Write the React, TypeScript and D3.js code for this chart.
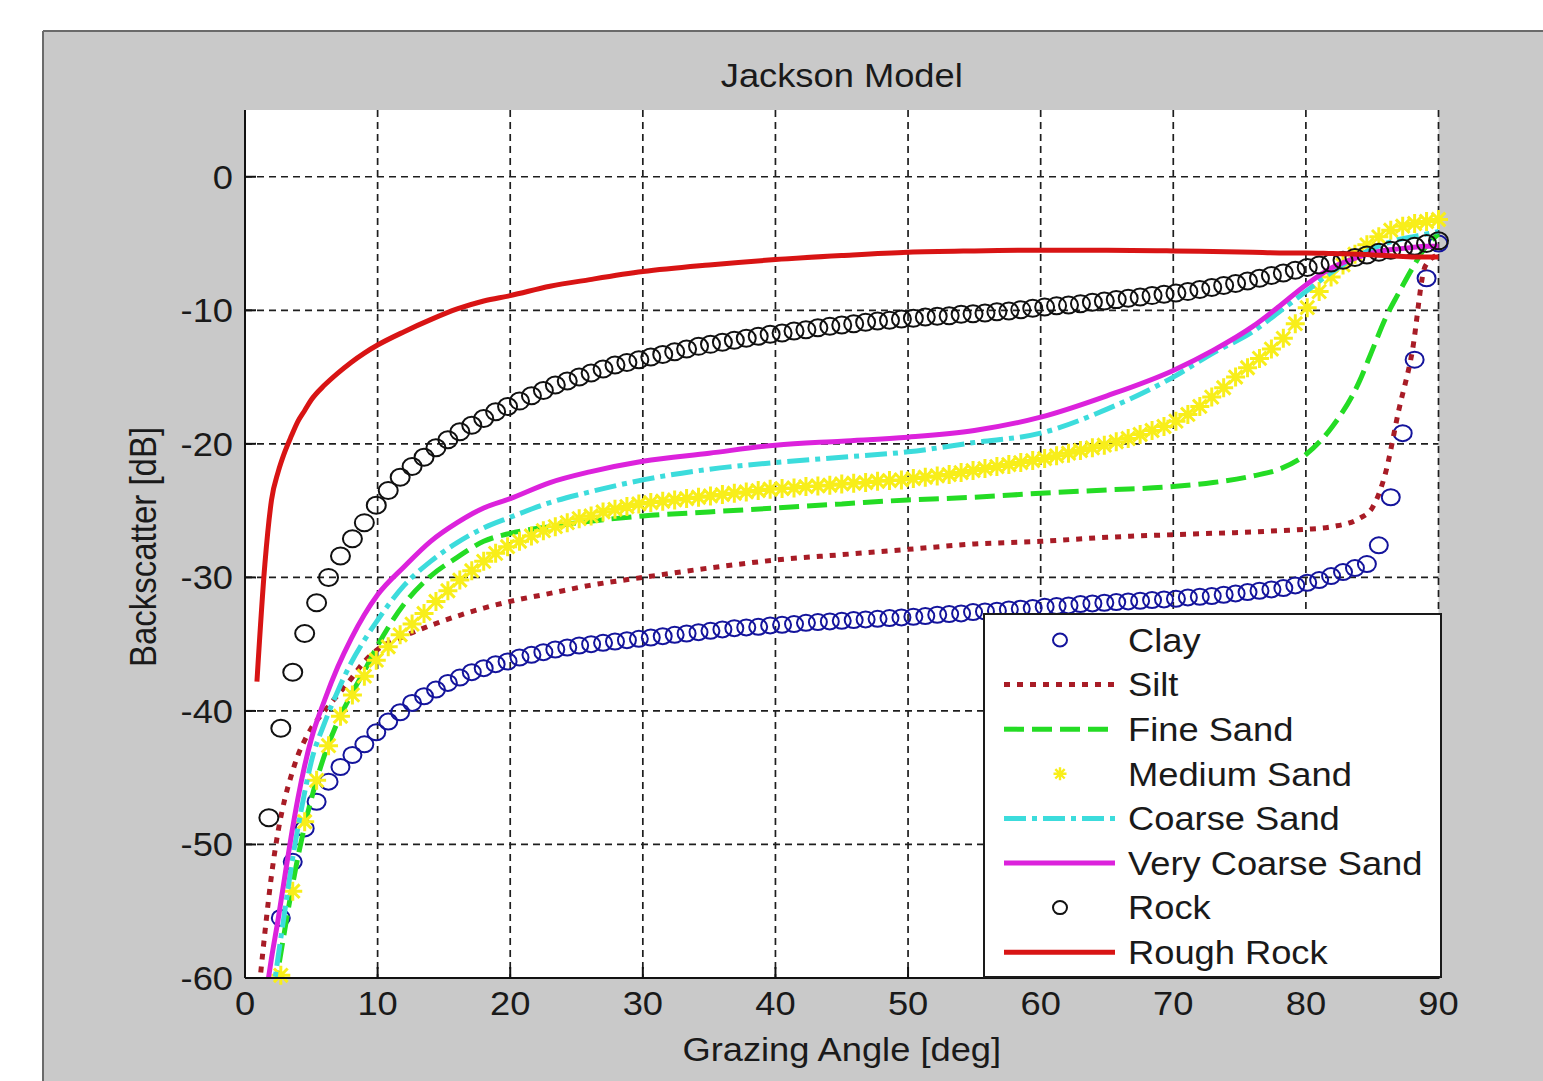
import React from 'react';
import * as d3 from 'd3';

const W = 1543;
const H = 1081;

const title = 'Jackson Model';
const xLabel = 'Grazing Angle [deg]';
const yLabel = 'Backscatter [dB]';
const xTicks = [0, 10, 20, 30, 40, 50, 60, 70, 80, 90];
const yTicks = [0, -10, -20, -30, -40, -50, -60];

// marker series sampled every 0.9 deg (0.9 ... 90)
const markerAngles = d3.range(1, 101).map((i) => Math.round(i * 9) / 10);

const clay = [
  null, null, -55.5, -51.3, -48.8, -46.8, -45.3, -44.2, -43.3, -42.5,
  -41.6, -40.8, -40.1, -39.4, -38.9, -38.4, -37.9, -37.5, -37.1, -36.8,
  -36.5, -36.3, -36.0, -35.8, -35.6, -35.4, -35.25, -35.1, -35.0, -34.9,
  -34.8, -34.7, -34.6, -34.5, -34.4, -34.3, -34.2, -34.1, -34.0, -33.9,
  -33.8, -33.75, -33.7, -33.6, -33.55, -33.5, -33.4, -33.35, -33.3, -33.25,
  -33.2, -33.15, -33.1, -33.05, -33.0, -32.95, -32.9, -32.8, -32.75, -32.7,
  -32.6, -32.55, -32.5, -32.4, -32.35, -32.3, -32.2, -32.15, -32.1, -32.0,
  -31.95, -31.9, -31.85, -31.8, -31.75, -31.7, -31.65, -31.6, -31.5, -31.45,
  -31.4, -31.3, -31.2, -31.1, -31.0, -30.9, -30.8, -30.6, -30.4, -30.2,
  -29.9, -29.6, -29.3, -29.0, -27.6, -24.0, -19.2, -13.7, -7.6, -5.0,
];

const mediumSand = [
  null, null, -59.8, -53.5, -48.3, -45.2, -42.6, -40.4, -38.8, -37.4,
  -36.2, -35.2, -34.3, -33.5, -32.7, -31.8, -31.0, -30.2, -29.5, -28.8,
  -28.2, -27.7, -27.3, -26.9, -26.5, -26.2, -25.9, -25.6, -25.4, -25.1,
  -24.9, -24.7, -24.5, -24.4, -24.3, -24.2, -24.1, -24.0, -23.9, -23.8,
  -23.7, -23.6, -23.5, -23.4, -23.35, -23.3, -23.2, -23.15, -23.1, -23.0,
  -22.95, -22.9, -22.8, -22.75, -22.7, -22.6, -22.5, -22.4, -22.3, -22.15,
  -22.0, -21.85, -21.7, -21.55, -21.4, -21.25, -21.1, -20.9, -20.7, -20.5,
  -20.3, -20.1, -19.85, -19.6, -19.3, -19.0, -18.7, -18.3, -17.8, -17.2,
  -16.5, -15.8, -15.0, -14.3, -13.6, -12.9, -12.1, -11.0, -9.8, -8.6,
  -7.5, -6.6, -5.8, -5.1, -4.5, -4.0, -3.7, -3.5, -3.35, -3.2,
];

const rock = [
  null, -48.0, -41.3, -37.1, -34.2, -31.9, -30.0, -28.4, -27.1, -25.9,
  -24.6, -23.5, -22.5, -21.7, -21.0, -20.3, -19.7, -19.1, -18.6, -18.1,
  -17.6, -17.2, -16.8, -16.4, -16.0, -15.6, -15.3, -15.0, -14.7, -14.4,
  -14.1, -13.9, -13.7, -13.5, -13.3, -13.1, -12.9, -12.7, -12.55, -12.4,
  -12.25, -12.1, -11.95, -11.8, -11.7, -11.55, -11.45, -11.3, -11.2, -11.1,
  -11.0, -10.9, -10.8, -10.75, -10.65, -10.6, -10.5, -10.45, -10.4, -10.3,
  -10.25, -10.2, -10.1, -10.05, -9.95, -9.85, -9.75, -9.65, -9.6, -9.5,
  -9.4, -9.3, -9.2, -9.1, -9.0, -8.9, -8.8, -8.7, -8.6, -8.45,
  -8.3, -8.15, -8.0, -7.8, -7.6, -7.4, -7.2, -7.0, -6.8, -6.6,
  -6.45, -6.25, -6.05, -5.85, -5.65, -5.5, -5.35, -5.2, -5.0, -4.8,
];

// line series sampled at these angles
const lineAngles = [
  0.9, 1.5, 2, 2.5, 3, 3.5, 4, 4.5, 5, 6, 7, 8, 9, 10, 12, 14, 16, 18, 20, 23,
  26, 30, 35, 40, 45, 50, 55, 60, 65, 70, 73, 76, 78, 80, 82, 84, 85, 86, 87, 88,
  89, 90,
];

const silt = [
  -62.5, -56.6, -52.3, -49.0, -46.6, -44.8, -43.3, -42.2, -41.3, -40.0,
  -38.8, -37.6, -36.3, -35.4, -34.4, -33.6, -32.9, -32.3, -31.8, -31.2,
  -30.6, -30.0, -29.3, -28.7, -28.3, -27.9, -27.5, -27.3, -27.0, -26.8,
  -26.7, -26.6, -26.5, -26.4, -26.2, -25.6, -24.8, -22.2, -17.5, -13.2,
  -6.7, -5.8,
];

const fineSand = [
  null, null, -63.0, -59.4, -56.4, -53.5, -50.9, -48.6, -46.6, -43.3,
  -40.8, -38.8, -37.0, -35.1, -32.0, -29.9, -28.5, -27.3, -26.7, -26.2,
  -25.8, -25.4, -25.1, -24.8, -24.5, -24.2, -24.0, -23.7, -23.45, -23.2,
  -22.9, -22.4, -21.9, -20.8, -18.7, -15.4, -13.0, -10.6, -8.7, -6.9,
  -5.3, -4.3,
];

const coarseSand = [
  null, null, -62.0, -58.4, -55.0, -51.6, -48.7, -46.1, -43.8, -40.9,
  -38.5, -36.4, -34.7, -33.2, -30.6, -28.8, -27.4, -26.3, -25.5, -24.4,
  -23.6, -22.7, -21.9, -21.4, -21.0, -20.6, -19.9, -19.2, -17.4, -15.0,
  -13.2, -11.6, -10.1, -8.6, -7.1, -5.9, -5.4, -5.0, -4.7, -4.5,
  -4.3, -4.1,
];

const veryCoarseSand = [
  null, -61.8, -58.5, -55.6, -52.4, -49.3, -46.5, -44.1, -42.1, -39.2,
  -36.7, -34.6, -32.8, -31.3, -29.2, -27.3, -25.9, -24.8, -24.1, -22.9,
  -22.1, -21.3, -20.7, -20.1, -19.8, -19.5, -19.0, -18.0, -16.4, -14.5,
  -13.0, -11.2, -9.7, -8.1, -6.8, -6.0, -5.7, -5.5, -5.4, -5.3,
  -5.2, -5.2,
];

const roughRock = [
  -37.8, -29.0, -24.2, -22.1, -20.6, -19.4, -18.3, -17.5, -16.7, -15.6,
  -14.7, -13.9, -13.2, -12.6, -11.6, -10.7, -9.9, -9.3, -8.9, -8.2,
  -7.7, -7.1, -6.6, -6.2, -5.9, -5.65, -5.55, -5.5, -5.5, -5.55,
  -5.6, -5.65, -5.7, -5.7, -5.75, -5.8, -5.85, -5.9, -5.95, -6.0,
  -6.0, -6.0,
];

const legendNames = [
  'Clay', 'Silt', 'Fine Sand', 'Medium Sand', 'Coarse Sand',
  'Very Coarse Sand', 'Rock', 'Rough Rock',
];

const FONT = "'Liberation Sans', Arial, Helvetica, sans-serif";
const TEXT_COLOR = '#1a1a1a';
const SX = 1.1; // horizontal stretch of the original figure's text

type Style = {
  kind: 'circle' | 'star' | 'line';
  color: string;
  dash?: string;
};

const styles: Style[] = [
  { kind: 'circle', color: '#14149c' },
  { kind: 'line', color: '#a81c26', dash: '6,7' },
  { kind: 'line', color: '#24dc24', dash: '20,8' },
  { kind: 'star', color: '#f8ee1a' },
  { kind: 'line', color: '#3cdcdc', dash: '22,6,5,6' },
  { kind: 'line', color: '#dc22dc' },
  { kind: 'circle', color: '#111111' },
  { kind: 'line', color: '#d81414' },
];

function starPath(cx: number, cy: number, r: number) {
  const d = r * 0.72;
  return `M${cx - r},${cy}H${cx + r}M${cx},${cy - r}V${cy + r}M${cx - d},${cy - d}L${cx + d},${cy + d}M${cx - d},${cy + d}L${cx + d},${cy - d}`;
}

function SText(props: {
  x: number;
  y: number;
  anchor?: 'start' | 'middle' | 'end';
  dy?: string;
  size?: number;
  children: React.ReactNode;
}) {
  const { x, y, anchor = 'start', dy, size = 33, children } = props;
  return (
    <g transform={`translate(${x},${y}) scale(${SX},1)`}>
      <text x={0} y={0} dy={dy} textAnchor={anchor} fontSize={size} fill={TEXT_COLOR}>
        {children}
      </text>
    </g>
  );
}

export default function App() {
  const left = 245;
  const right = 1438.5;
  const top = 110;
  const bottom = 978;
  const x = d3.scaleLinear().domain([0, 90]).range([left, right]);
  const y = d3.scaleLinear().domain([-60, 5]).range([bottom, top]);

  const line = d3
    .line<[number, number | null]>()
    .defined((d) => d[1] != null)
    .x((d) => x(d[0]))
    .y((d) => y(d[1] as number))
    .curve(d3.curveMonotoneX);

  const zipLine = (vals: (number | null)[]) =>
    lineAngles.map((a, i) => [a, vals[i]] as [number, number | null]);
  const zipMarkers = (vals: (number | null)[]) =>
    markerAngles
      .map((a, i) => [a, vals[i]] as [number, number | null])
      .filter((d) => d[1] != null && (d[1] as number) >= -60) as [number, number][];

  const legendX = 984;
  const legendY = 614;
  const legendW = 457;
  const legendH = 363;
  const rowY0 = 640;
  const rowStep = 44.6;

  return (
    <svg
      width={W}
      height={H}
      style={{ position: 'absolute', left: 0, top: 0, display: 'block' }}
      fontFamily={FONT}
    >
      <defs>
        <clipPath id="plotClip">
          <rect x={left} y={top} width={right - left + 2} height={bottom - top} />
        </clipPath>
      </defs>
      <rect x={0} y={0} width={W} height={H} fill="#ffffff" />
      <rect x={43} y={31} width={W - 43} height={H - 31} fill="#c9c9c9" />
      <line x1={43} y1={31} x2={W} y2={31} stroke="#6a6a6a" strokeWidth={2} />
      <line x1={43} y1={31} x2={43} y2={H} stroke="#6a6a6a" strokeWidth={2} />

      {/* plot area */}
      <rect x={left} y={top} width={right - left} height={bottom - top} fill="#ffffff" />

      {/* grid */}
      <g stroke="#1e1e1e" strokeWidth={1.7} strokeDasharray="7,5">
        {xTicks.filter((t) => t > 0).map((t) => (
          <line key={'gx' + t} x1={x(t)} x2={x(t)} y1={top} y2={bottom} />
        ))}
        {yTicks.filter((t) => t > -60).map((t) => (
          <line key={'gy' + t} x1={left} x2={right} y1={y(t)} y2={y(t)} />
        ))}
      </g>

      {/* data */}
      <g>
        {zipMarkers(clay).map((d, i) => (
          <ellipse key={'c' + i} cx={x(d[0])} cy={y(d[1])} rx={9} ry={8} fill="none" stroke={styles[0].color} strokeWidth={2} />
        ))}
      </g>
      <g clipPath="url(#plotClip)">
        <path d={line(zipLine(silt)) || ''} fill="none" stroke={styles[1].color} strokeWidth={5} strokeDasharray={styles[1].dash} />
        <path d={line(zipLine(fineSand)) || ''} fill="none" stroke={styles[2].color} strokeWidth={5} strokeDasharray={styles[2].dash} />
      </g>
      <g>
        {zipMarkers(mediumSand).map((d, i) => (
          <path key={'m' + i} d={starPath(x(d[0]), y(d[1]), 9.5)} fill="none" stroke={styles[3].color} strokeWidth={3} />
        ))}
      </g>
      <g clipPath="url(#plotClip)">
        <path d={line(zipLine(coarseSand)) || ''} fill="none" stroke={styles[4].color} strokeWidth={5} strokeDasharray={styles[4].dash} />
        <path d={line(zipLine(veryCoarseSand)) || ''} fill="none" stroke={styles[5].color} strokeWidth={5} />
      </g>
      <g>
        {zipMarkers(rock).map((d, i) => (
          <ellipse key={'r' + i} cx={x(d[0])} cy={y(d[1])} rx={9.5} ry={8.5} fill="none" stroke={styles[6].color} strokeWidth={2} />
        ))}
      </g>
      <g clipPath="url(#plotClip)">
        <path d={line(zipLine(roughRock)) || ''} fill="none" stroke={styles[7].color} strokeWidth={5} />
      </g>

      {/* axes */}
      <line x1={left} x2={left} y1={top} y2={bottom} stroke="#111" strokeWidth={2} />
      <line x1={left} x2={right + 1} y1={bottom} y2={bottom} stroke="#111" strokeWidth={2} />
      <g stroke="#111" strokeWidth={2}>
        {xTicks.map((t) => (
          <line key={'tx' + t} x1={x(t)} x2={x(t)} y1={bottom} y2={bottom - 11} />
        ))}
        {yTicks.map((t) => (
          <line key={'ty' + t} x1={left} x2={left + 11} y1={y(t)} y2={y(t)} />
        ))}
      </g>

      {/* tick labels */}
      {xTicks.map((t) => (
        <SText key={'lx' + t} x={x(t)} y={1015} anchor="middle">
          {t}
        </SText>
      ))}
      {yTicks.map((t) => (
        <SText key={'ly' + t} x={233} y={y(t)} dy="0.36em" anchor="end">
          {t}
        </SText>
      ))}

      {/* titles */}
      <SText x={(left + right) / 2} y={87} anchor="middle">
        {title}
      </SText>
      <SText x={(left + right) / 2} y={1061} anchor="middle">
        {xLabel}
      </SText>
      <text
        transform={`translate(143,547) rotate(-90) scale(1,${SX})`}
        fontSize={33}
        textAnchor="middle"
        dy="0.36em"
        fill={TEXT_COLOR}
      >
        {yLabel}
      </text>

      {/* legend */}
      <rect x={legendX} y={legendY} width={legendW} height={legendH} fill="#ffffff" stroke="#1a1a1a" strokeWidth={2} />
      {legendNames.map((name, i) => {
        const st = styles[i];
        const cy = rowY0 + i * rowStep;
        return (
          <g key={'lg' + i}>
            {st.kind === 'line' && (
              <line x1={1004} x2={1115} y1={cy} y2={cy} stroke={st.color} strokeWidth={5} strokeDasharray={st.dash} />
            )}
            {st.kind === 'circle' && (
              <ellipse cx={1060} cy={cy} rx={7} ry={6.5} fill="none" stroke={st.color} strokeWidth={2} />
            )}
            {st.kind === 'star' && (
              <path d={starPath(1060, cy, 6.5)} fill="none" stroke={st.color} strokeWidth={2.4} />
            )}
            <SText x={1128} y={cy} dy="0.36em">
              {name}
            </SText>
          </g>
        );
      })}
    </svg>
  );
}
